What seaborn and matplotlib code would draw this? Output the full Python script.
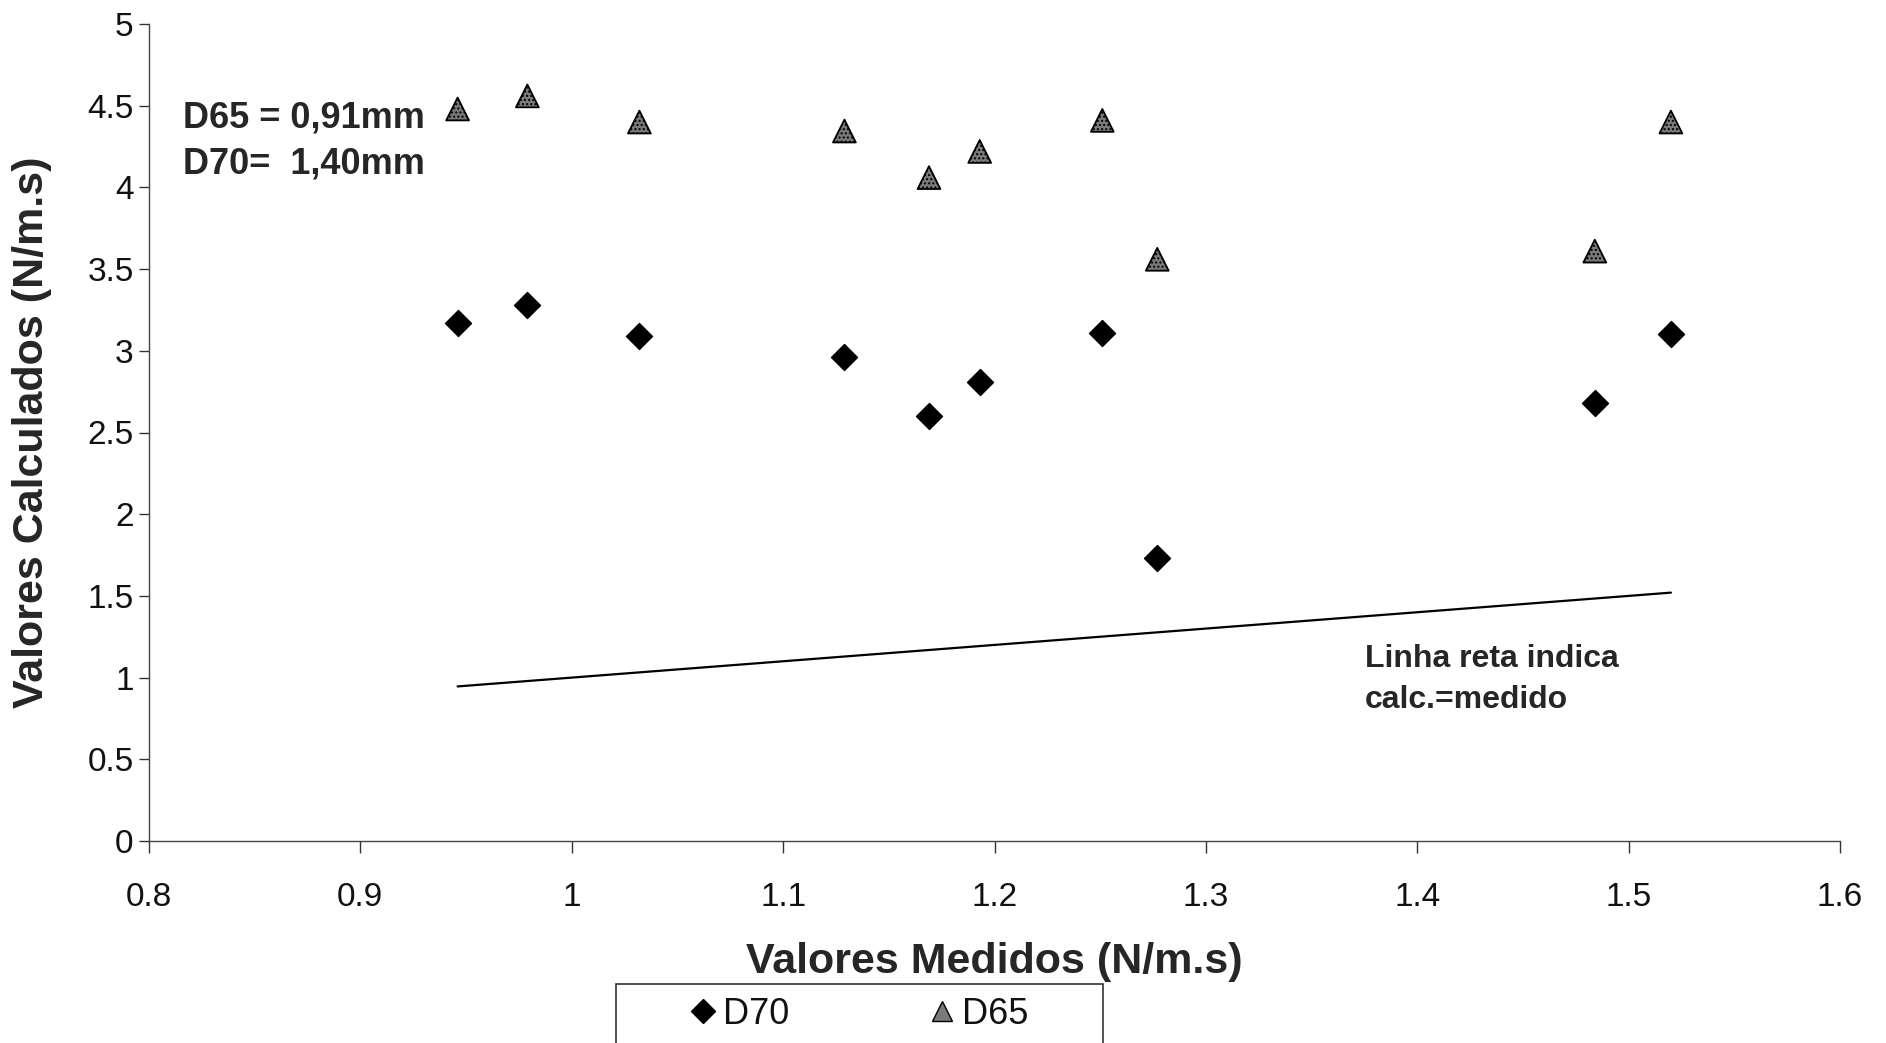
import matplotlib
matplotlib.use("Agg")
import matplotlib.pyplot as plt
import seaborn as sns
import pandas as pd
from matplotlib.lines import Line2D
from matplotlib.patches import Rectangle

# Measured vs calculated values (N/m.s)
medidos = [0.946, 0.979, 1.032, 1.129, 1.169, 1.193, 1.251, 1.277, 1.484, 1.520]
calc_d65 = [4.48, 4.56, 4.40, 4.345, 4.06, 4.22, 4.41, 3.56, 3.61, 4.40]
calc_d70 = [3.17, 3.28, 3.09, 2.96, 2.60, 2.81, 3.11, 1.73, 2.68, 3.10]

x_ticks = [0.8, 0.9, 1.0, 1.1, 1.2, 1.3, 1.4, 1.5, 1.6]
x_tick_labels = ["0.8", "0.9", "1", "1.1", "1.2", "1.3", "1.4", "1.5", "1.6"]
y_ticks = [0, 0.5, 1, 1.5, 2, 2.5, 3, 3.5, 4, 4.5, 5]
y_tick_labels = ["0", "0.5", "1", "1.5", "2", "2.5", "3", "3.5", "4", "4.5", "5"]

sns.set_theme(style="white")
plt.rcParams["font.family"] = ["Liberation Sans", "DejaVu Sans"]

W, H = 1886, 1043
fig = plt.figure(figsize=(W / 100, H / 100), dpi=100)
ax = fig.add_axes([149 / W, 1 - 841 / H, (1840 - 149) / W, (841 - 24) / H])

df = pd.DataFrame({"medido": medidos, "d65": calc_d65, "d70": calc_d70})

# Reference line calc. = medido
sns.lineplot(data=df, x="medido", y="medido", color="black", lw=1.6, ax=ax)

sns.scatterplot(data=df, x="medido", y="d70", marker="D", s=175,
                color="black", edgecolor="black", linewidth=1, ax=ax, zorder=3)
sns.scatterplot(data=df, x="medido", y="d65", marker="^", s=270,
                color="#7a7a7a", edgecolor="black", linewidth=1.3, ax=ax, zorder=3)
ax.collections[-1].set_hatch("....")

ax.set_xlim(0.8, 1.6)
ax.set_ylim(0, 5)
ax.set_xticks(x_ticks)
ax.set_xticklabels(x_tick_labels)
ax.set_yticks(y_ticks)
ax.set_yticklabels(y_tick_labels)
ax.tick_params(axis="both", labelsize=24, colors="#333333", labelcolor="#111111",
               direction="out", width=1, left=True, bottom=True)
ax.tick_params(axis="x", length=8.5, pad=21)
ax.tick_params(axis="y", length=7, pad=4)

for side in ("top", "right"):
    ax.spines[side].set_visible(False)
for side in ("left", "bottom"):
    ax.spines[side].set_color("#444444")
    ax.spines[side].set_linewidth(1.0)

ax.set_xlabel("Valores Medidos (N/m.s)", fontsize=31, fontweight="bold")
ax.set_ylabel("Valores Calculados (N/m.s)", fontsize=31, fontweight="bold")
ax.xaxis.set_label_coords(0.5, (841 - 962) / 817)
ax.xaxis.label.set_va("center")
ax.yaxis.set_label_coords((32 - 149) / 1691, 0.5)
ax.yaxis.label.set_va("center")
ax.yaxis.label.set_ha("center")

fig.text(183 / W, 1 - 118 / H, "D65 = 0,91mm", fontsize=26, fontweight="bold",
         va="center", ha="left")
fig.text(183 / W, 1 - 164 / H, "D70=  1,40mm", fontsize=26, fontweight="bold",
         va="center", ha="left")
fig.text(1365 / W, 1 - 659 / H, "Linha reta indica", fontsize=23, fontweight="bold",
         va="center", ha="left")
fig.text(1365 / W, 1 - 700 / H, "calc.=medido", fontsize=23, fontweight="bold",
         va="center", ha="left")

handles = [
    Line2D([], [], marker="D", ls="none", color="black", markersize=12),
    Line2D([], [], marker="^", ls="none", markerfacecolor="#7a7a7a",
           markeredgecolor="black", markersize=14),
]
leg = fig.legend(handles, ["D70", "D65"], ncol=2, loc="center left",
                 bbox_to_anchor=(690 / W, 1 - 1014 / H), fontsize=26,
                 frameon=False, borderpad=0, borderaxespad=0,
                 handletextpad=0.2, columnspacing=3.9, handlelength=0.7)
for t in leg.get_texts():
    t.set_color("#111111")

# Legend box, running off the lower edge of the figure
fig.patches.append(Rectangle((616 / W, 1 - 1060 / H), (1103 - 616) / W, (1060 - 984) / H,
                             transform=fig.transFigure, fill=False,
                             edgecolor="#333333", linewidth=1.2))

fig.savefig("out.png", dpi=100)
